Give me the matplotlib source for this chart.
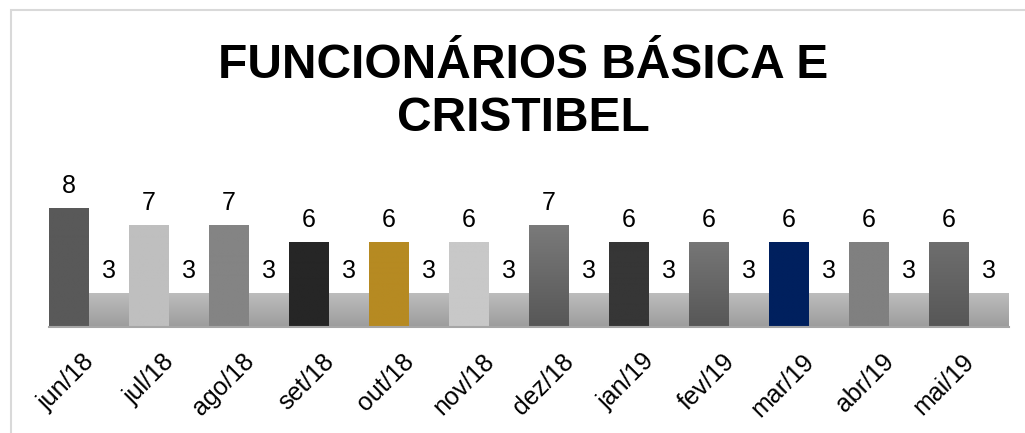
import matplotlib
matplotlib.use("Agg")
import matplotlib.pyplot as plt
import numpy as np
from matplotlib.patches import Rectangle
from matplotlib.colors import to_rgb
from matplotlib.transforms import ScaledTranslation

months = ["jun/18", "jul/18", "ago/18", "set/18", "out/18", "nov/18",
          "dez/18", "jan/19", "fev/19", "mar/19", "abr/19", "mai/19"]
funcionarios = [8, 7, 7, 6, 6, 6, 7, 6, 6, 6, 6, 6]
segunda = [3, 3, 3, 3, 3, 3, 3, 3, 3, 3, 3, 3]
title = "FUNCIONÁRIOS BÁSICA E\nCRISTIBEL"

# (top colour, bottom colour) of each first-series bar
first_colors = [("#595959", "#595959"), ("#BFBFBF", "#BFBFBF"), ("#848484", "#848484"),
                ("#262626", "#262626"), ("#B68A22", "#B68A22"), ("#C8C8C8", "#C8C8C8"),
                ("#7A7A7A", "#575757"), ("#363636", "#363636"), ("#767676", "#575757"),
                ("#00205E", "#00205E"), ("#808080", "#808080"), ("#6E6E6E", "#575757")]
second_colors = ("#BDBDBD", "#9C9C9C")

plt.rcParams['font.family'] = ['Liberation Sans', 'DejaVu Sans']

W, H = 1025, 433
fig = plt.figure(figsize=(W / 100, H / 100), dpi=100)

# outer chart border (right/bottom edges fall outside the picture)
fig.patches.append(Rectangle((11 / W, -0.1), 1.2, 1 - 10 / H + 0.1, transform=fig.transFigure,
                             fill=False, edgecolor="#D9D9D9", linewidth=1.5))

left, right = 49 / W, 1009 / W
bottom = (H - 327) / H
top = (H - 191) / H
ax = fig.add_axes([left, bottom, right - left, top - bottom])

x = np.arange(len(months))
w = 0.5
b1 = ax.bar(x - w / 2, np.array(funcionarios) - 1, w, bottom=1, color="none", linewidth=0)
b2 = ax.bar(x + w / 2, np.array(segunda) - 1, w, bottom=1, color="none", linewidth=0)


def grad_fill(patch, ctop, cbot):
    x0, y0 = patch.get_x(), patch.get_y()
    x1, y1 = x0 + patch.get_width(), y0 + patch.get_height()
    t = np.linspace(0, 1, 64)[:, None]
    a, b = np.array(to_rgb(ctop)), np.array(to_rgb(cbot))
    img = (a[None, None, :] * (1 - t[..., None]) + b[None, None, :] * t[..., None])
    img = np.repeat(img, 2, axis=1)
    ax.imshow(img, extent=[x0, x1, y0, y1], aspect="auto", origin="upper",
              interpolation="bilinear", zorder=2)


for p, (ct, cb) in zip(b1.patches, first_colors):
    grad_fill(p, ct, cb)
for p in b2.patches:
    grad_fill(p, *second_colors)

for p, v in zip(b1.patches, funcionarios):
    ax.text(p.get_x() + p.get_width() / 2, p.get_y() + p.get_height() + 0.6, str(v),
            ha="center", va="bottom", fontsize=18, color="#000000")
for p, v in zip(b2.patches, segunda):
    ax.text(p.get_x() + p.get_width() / 2, p.get_y() + p.get_height() + 0.6, str(v),
            ha="center", va="bottom", fontsize=18, color="#000000")

ax.set_xlim(-0.5, len(months) - 0.5)
ax.set_ylim(1, 9)
ax.set_xticks(x)
ax.set_xticklabels(months, rotation=45, ha="right", va="top", rotation_mode="anchor",
                   fontsize=18)
ax.tick_params(axis="x", length=0, pad=16)
off = ScaledTranslation(-7 / 100, 0, fig.dpi_scale_trans)
for lbl in ax.get_xticklabels():
    lbl.set_transform(lbl.get_transform() + off)
ax.set_yticks([])
for s in ["top", "left", "right"]:
    ax.spines[s].set_visible(False)
ax.spines["bottom"].set_color("#A6A6A6")
ax.spines["bottom"].set_linewidth(1.5)
ax.spines["bottom"].set_zorder(3)
ax.patch.set_visible(False)

fig.text(523 / W, 1 - 92 / H, title, ha="center", va="center", fontsize=34.5,
         fontweight="bold", linespacing=1.22, color="#000000")

fig.savefig("out.png", dpi=100)
